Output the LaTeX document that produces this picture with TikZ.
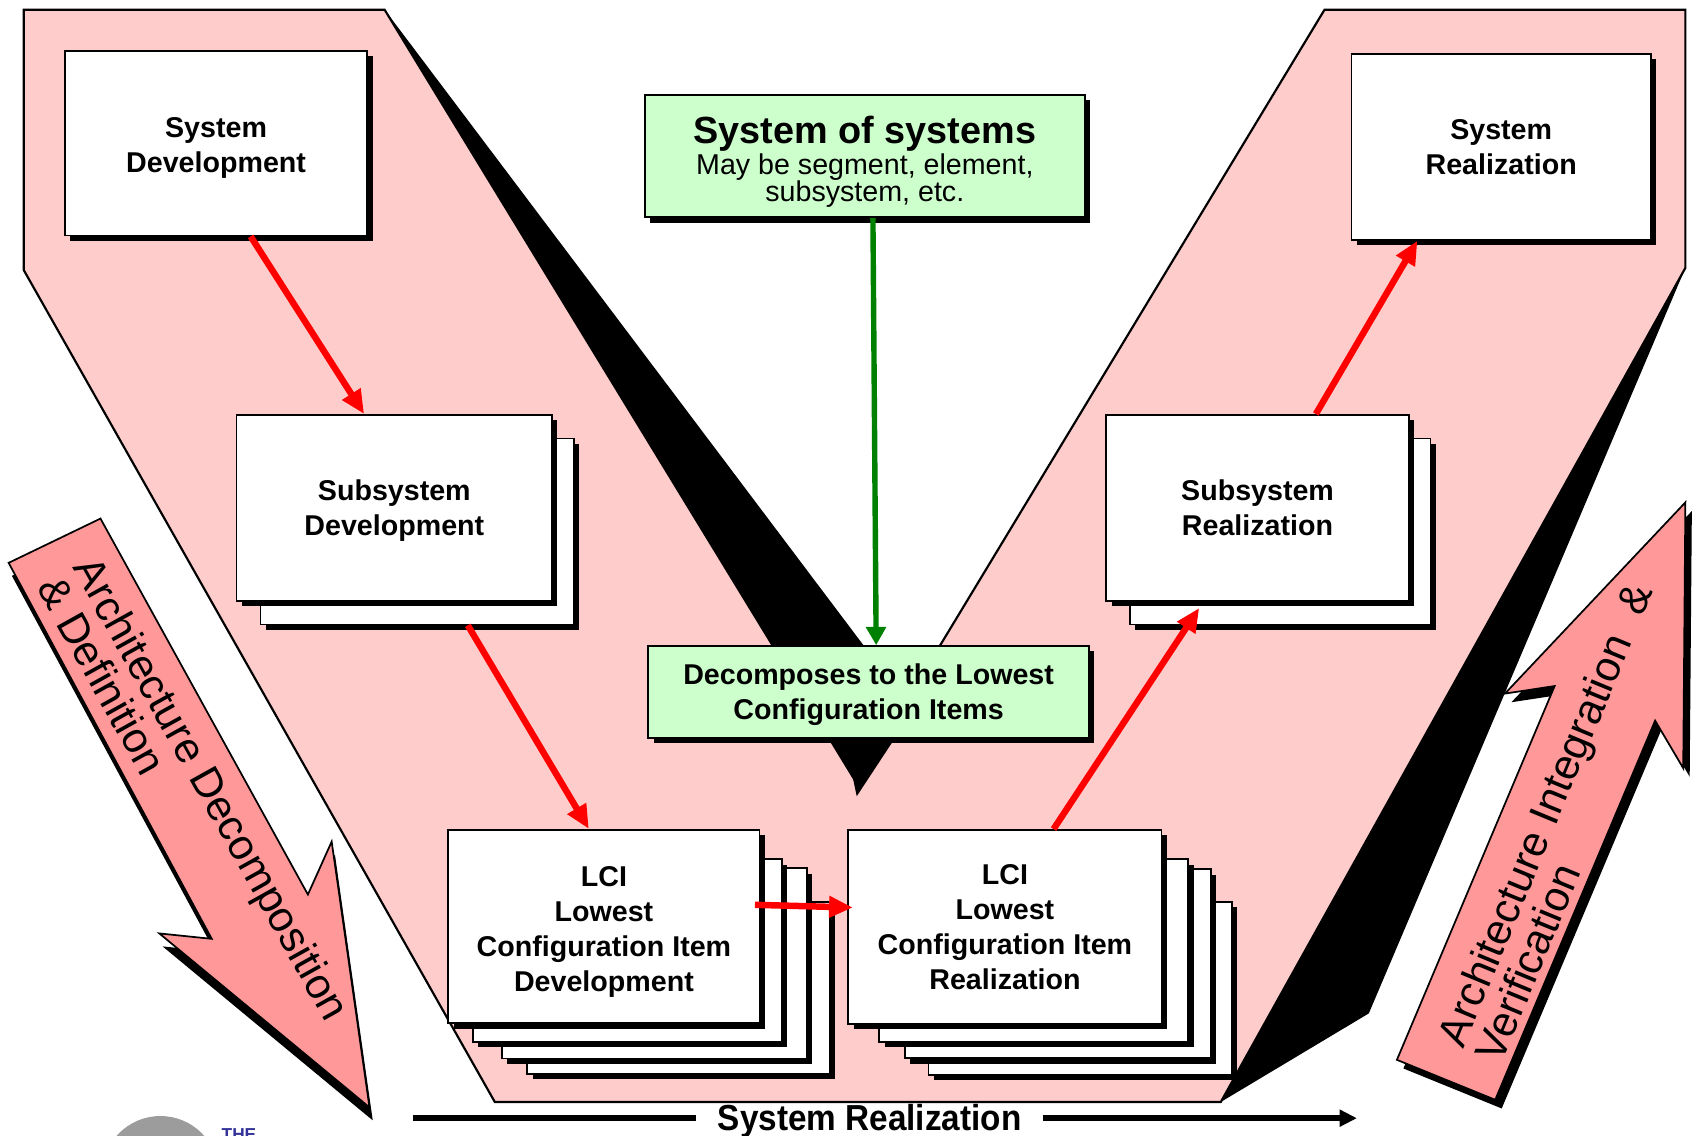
\documentclass[tikz,border=0pt]{standalone}
\usepackage{fontspec}
\setmainfont{Liberation Sans}
\usepackage{graphicx}
\usetikzlibrary{arrows.meta,shadows}
\definecolor{vpink}{HTML}{FFCCCC}
\definecolor{apink}{HTML}{FF9999}
\definecolor{lgreen}{HTML}{CCFFCC}
\definecolor{dgreen}{HTML}{008000}
\definecolor{logoblue}{HTML}{333399}
\definecolor{logogray}{HTML}{9C9C9C}
\newcommand{\bxfont}{\fontsize{26.5pt}{32.5pt}\selectfont\bfseries}
\newcommand{\arfont}{\fontsize{39.5pt}{38pt}\selectfont}
\begin{document}
\begin{tikzpicture}[x=1pt,y=-1pt,
  bxtext/.style={inner sep=0pt, align=center, font=\bxfont, text depth=-3pt},
  wbox/.style={bxtext, draw=black, line width=1.6pt, fill=white,
     drop shadow={shadow xshift=5pt, shadow yshift=-5pt, fill=black, opacity=1}},
  gbox/.style={wbox, fill=lgreen},
  redarr/.style={draw=red, line width=6pt, -{Triangle[length=22pt,width=19pt]}},
  grnarr/.style={draw=dgreen, line width=5pt, -{Triangle[length=17pt,width=18pt]}},
  blockarr/.style={fill=apink, draw=black, line width=1.6pt, line join=miter},
  arrtext/.style={align=left, font=\arfont, inner sep=0pt},
]
\useasboundingbox (0,0) rectangle (1568,1051);

% shadow along the right outer edge of the V
\fill[black] (1560,248) -- (1267,938) -- (1130,1020) -- cycle;
% pink V
\draw[fill=vpink, line width=2pt, line join=miter] (22,9) -- (356,9) -- (793,725) -- (1226,9) -- (1560,9)
  -- (1560,248) -- (1130,1020) -- (458,1020) -- (22,250) -- cycle;
% shadow along the inner left edge of the V
\fill[black] (356,9) -- (845,658) -- (793,737) -- (789,718) -- cycle;

% left side boxes
\node[wbox, minimum width=280pt, minimum height=171pt] (sd) at (200,132.5) {};
\node[bxtext] (sdt) at (200,134.5) {System\\Development};
\node[wbox, minimum width=290pt, minimum height=172pt] (ssd2) at (386,492) {};
\node[wbox, minimum width=292pt, minimum height=172pt] (ssd) at (365,470) {Subsystem\\Development};
\node[wbox, minimum width=280.2pt, minimum height=159.5pt] (lcid4) at (628.1,914.4) {};
\node[wbox, minimum width=282.3pt, minimum height=175.9pt] (lcid3) at (605.5,891.7) {};
\node[wbox, minimum width=286pt, minimum height=168.8pt] (lcid2) at (580.5,879.8) {};
\node[wbox, minimum width=288pt, minimum height=179pt] (lcid) at (559,857.5) {};
\node[bxtext] (lcidt) at (559,860) {LCI\\Lowest\\Configuration Item\\Development};

% right side boxes
\node[wbox, minimum width=277pt, minimum height=172pt] (sr) at (1389.5,136) {System\\Realization};
\node[wbox, minimum width=278pt, minimum height=172pt] (ssr2) at (1185,492) {};
\node[wbox, minimum width=280pt, minimum height=172pt] (ssr) at (1164,470) {Subsystem\\Realization};
\node[wbox, minimum width=280.7pt, minimum height=160.4pt] (lcir4) at (999.7,914.8) {};
\node[wbox, minimum width=282.9pt, minimum height=175pt] (lcir3) at (979.2,892.1) {};
\node[wbox, minimum width=286pt, minimum height=168.8pt] (lcir2) at (956.9,879.8) {};
\node[wbox, minimum width=290pt, minimum height=179.6pt] (lcir) at (930.2,858) {LCI\\Lowest\\Configuration Item\\Realization};

% green boxes
\node[gbox, minimum width=407pt, minimum height=113pt] (sos) at (800.5,144.5) {};
\node[anchor=base, font=\fontsize{35pt}{35pt}\selectfont\bfseries, inner sep=0pt] (sost) at (800.5,132.5) {System of systems};
\node[anchor=base, font=\fontsize{26.5pt}{25pt}\selectfont, inner sep=0pt] (sos1) at (800.5,161.5) {May be segment, element,};
\node[anchor=base, font=\fontsize{26.5pt}{25pt}\selectfont, inner sep=0pt] (sos2) at (800.5,186.5) {subsystem, etc.};
\node[gbox, minimum width=408pt, minimum height=85pt] (dec) at (804,640.5) {Decomposes to the Lowest\\Configuration Items};

% connectors
\draw[redarr] ([xshift=32pt]sd.south) -- ([xshift=-28pt]ssd.north);
\draw[redarr] ([xshift=47pt]ssd2.south) -- ([xshift=-14pt]lcid.north);
\draw[redarr] ([xshift=-5pt,yshift=20pt]lcid.east) -- ([xshift=5pt,yshift=18pt]lcir.west);
\draw[redarr] ([xshift=45pt]lcir.north) -- ([xshift=-54pt,yshift=-6pt]ssr.south);
\draw[redarr] ([xshift=54pt]ssr.north) -- ([xshift=-77.5pt]sr.south);
\draw[grnarr] ([xshift=7.5pt]sos.south) -- ([xshift=7pt]dec.north);

% left block arrow
\fill[black, shift={(3,12)}] (8,521) -- (93,480) -- (285,828) -- (307,779) -- (342,1025) -- (147.5,864) -- (196,869) -- cycle;
\draw[blockarr] (8,521) -- (93,480) -- (285,828) -- (307,779) -- (342,1025) -- (147.5,864) -- (196,869) -- cycle;
\node[arrtext, rotate=-60.9] (ltxt) at (180,739) {Architecture Decomposition\\\& Definition};

% right block arrow
\fill[black, shift={(6,8)}] (1293,981) -- (1439,635) -- (1393,642) -- (1560,465) -- (1558,711) -- (1532,667) -- (1384,1018) -- cycle;
\draw[blockarr] (1293,981) -- (1439,635) -- (1393,642) -- (1560,465) -- (1558,711) -- (1532,667) -- (1384,1018) -- cycle;
\node[arrtext, rotate=67.5] (rtxt) at (1447,761) {Architecture Integration\hspace{24pt}\&\\Verification};

% bottom arrow
\coordinate (bs) at (382,1035);
\coordinate (be) at (1256,1035);
\draw[line width=5pt, -{Triangle[length=16pt,width=15pt]}] (bs) -- (be);
\node[anchor=base, fill=white, inner xsep=20pt, inner ysep=0pt, font=\fontsize{33.5pt}{33.5pt}\selectfont\bfseries] (srl) at (805,1046) {\scalebox{0.92}[1]{System Realization}};

% partial logo at the bottom edge
\begin{scope}
\clip (0,0) rectangle (1568,1051);
\fill[logogray] (148.5,1087) circle (54pt);
\node[anchor=base west, inner sep=0pt, text=logoblue, font=\fontsize{16pt}{16pt}\selectfont\bfseries] (logo) at (205,1056) {THE};
\end{scope}
\end{tikzpicture}
\end{document}
